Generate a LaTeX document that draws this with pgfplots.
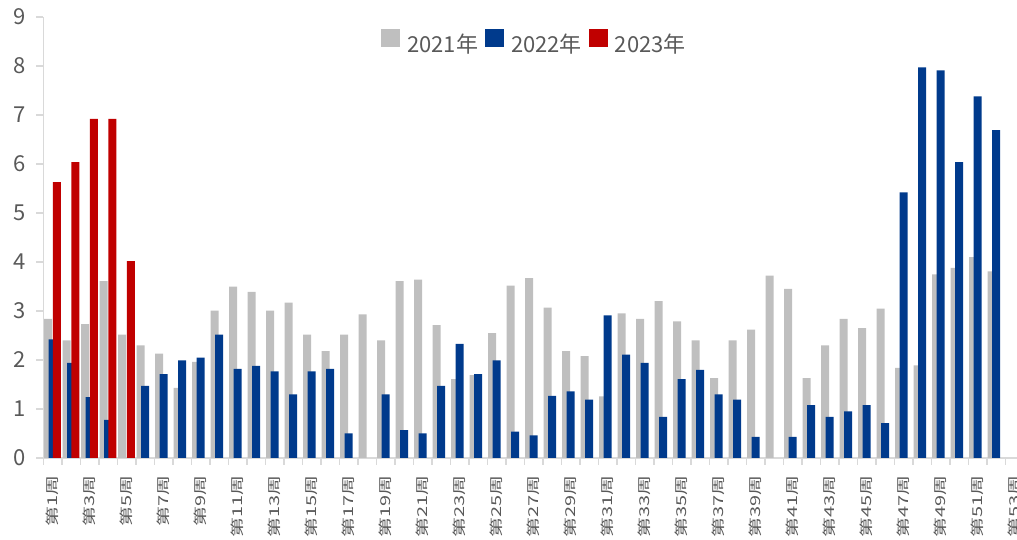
\documentclass[border=0pt]{standalone}
\usepackage{fontspec}
\setmainfont{Noto Sans CJK SC}
\usepackage{graphicx}
\usepackage{pgfplots}
\pgfplotsset{compat=1.18}
\definecolor{g21}{HTML}{BFBFBF}
\definecolor{b22}{HTML}{003A8C}
\definecolor{r23}{HTML}{C00000}
\definecolor{axg}{HTML}{D9D9D9}
\definecolor{txt}{HTML}{595959}
\newcommand\xl[1]{\scalebox{1}[0.68]{第#1周}}
\begin{document}
\begin{tikzpicture}
\begin{axis}[
  scale only axis, width=490.25pt, height=220.5pt,
  xmin=0.5, xmax=53.5, ymin=0, ymax=9,
  axis lines*=left,
  axis line style={draw=axg, line width=0.75pt, -},
  ytick={0,...,9},
  xtick={1,3,...,53},
  xticklabels={\xl{1},\xl{3},\xl{5},\xl{7},\xl{9},\xl{11},\xl{13},\xl{15},\xl{17},\xl{19},\xl{21},\xl{23},\xl{25},\xl{27},\xl{29},\xl{31},\xl{33},\xl{35},\xl{37},\xl{39},\xl{41},\xl{43},\xl{45},\xl{47},\xl{49},\xl{51},\xl{53}},
  minor xtick={0.5,1.5,...,53.5},
  major tick length=3.5pt, minor tick length=3.5pt,
  tick align=outside,
  major x tick style={draw=none},
  minor x tick style={draw=axg, line width=0.75pt},
  major y tick style={draw=axg, line width=0.75pt},
  tick label style={text=txt},
  yticklabel style={font=\fontsize{11}{11}\selectfont, inner sep=0pt, xshift=-5.15pt},
  xticklabel style={font=\fontsize{10}{10}\selectfont, yshift=-5pt, rotate=90, anchor=east, inner sep=0pt},
  /pgf/number format/assume math mode=true,
  ybar, bar width=4pt,
  legend columns=3,
  legend style={draw=none, fill=none, at={(0.5,0.943)}, anchor=center,
    font=\fontsize{11}{11}\selectfont, text=txt, column sep=3.5pt,
    nodes={inner sep=0pt}},
]
\addplot[ybar, fill=g21, draw=none, bar shift=-2.2pt,
  legend image code/.code={\fill[g21] (0pt,-0.8pt) rectangle (9.5pt,8.2pt);}] coordinates {
(1,2.84) (2,2.40) (3,2.73) (4,3.61) (5,2.52) (6,2.30) (7,2.13) (8,1.43) (9,1.96) (10,3.01)
(11,3.50) (12,3.39) (13,3.01) (14,3.17) (15,2.52) (16,2.18) (17,2.52) (18,2.93) (19,2.40) (20,3.61)
(21,3.64) (22,2.71) (23,1.61) (24,1.69) (25,2.55) (26,3.52) (27,3.67) (28,3.07) (29,2.18) (30,2.08)
(31,1.26) (32,2.95) (33,2.84) (34,3.20) (35,2.79) (36,2.40) (37,1.63) (38,2.40) (39,2.62) (40,3.72)
(41,3.45) (42,1.63) (43,2.30) (44,2.84) (45,2.65) (46,3.05) (47,1.84) (48,1.89) (49,3.75) (50,3.88)
(51,4.10) (52,3.81)};
\addplot[ybar, fill=b22, draw=none, bar shift=0pt,
  legend image code/.code={\fill[b22] (0pt,-0.8pt) rectangle (9.5pt,8.2pt);}] coordinates {
(1,2.42) (2,1.94) (3,1.24) (4,0.78) (6,1.47) (7,1.71) (8,1.99) (9,2.05) (10,2.52)
(11,1.82) (12,1.88) (13,1.77) (14,1.30) (15,1.77) (16,1.82) (17,0.50) (19,1.30) (20,0.57)
(21,0.50) (22,1.47) (23,2.33) (24,1.71) (25,1.99) (26,0.54) (27,0.46) (28,1.27) (29,1.36) (30,1.19)
(31,2.91) (32,2.11) (33,1.94) (34,0.84) (35,1.61) (36,1.80) (37,1.30) (38,1.19) (39,0.43)
(41,0.43) (42,1.08) (43,0.84) (44,0.95) (45,1.08) (46,0.71) (47,5.42) (48,7.97) (49,7.91) (50,6.04)
(51,7.38) (52,6.69)};
\addplot[ybar, fill=r23, draw=none, bar shift=2.2pt,
  legend image code/.code={\fill[r23] (0pt,-0.8pt) rectangle (9.5pt,8.2pt);}] coordinates {
(1,5.63) (2,6.04) (3,6.92) (4,6.92) (5,4.02)};
\legend{2021年,2022年,2023年}
\end{axis}
\pgfresetboundingbox
\useasboundingbox (-21.65pt,-41pt) rectangle (486.85pt,229pt);
\end{tikzpicture}
\end{document}
